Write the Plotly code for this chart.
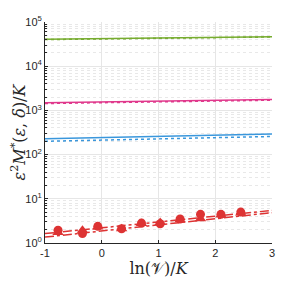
import plotly.graph_objects as go

x_line = [-1, 3]
green_solid = [40500, 46500]
green_dot = [40000, 45800]
pink_solid = [1480, 1760]
pink_dot = [1430, 1700]
blue_solid = [228, 292]
blue_dot = [200, 257]
red_fit1 = [1.63, 5.47]
red_fit2 = [1.36, 4.86]

x_pts = [-0.77, -0.34, -0.07, 0.35, 0.70, 1.03, 1.38, 1.74, 2.10, 2.45]
red_circ = [1.94, 1.63, 2.38, 2.1, 2.82, 2.73, 3.5, 4.45, 4.45, 5.0]
red_tri = [1.72, 1.94, 2.3, 2.1, 2.75, 2.9, 3.35, 3.55, 4.3, 4.8]

ytick_vals = [1, 10, 100, 1000, 10000, 100000]
ytick_text = ["10<sup>0</sup>", "10<sup>1</sup>", "10<sup>2</sup>", "10<sup>3</sup>", "10<sup>4</sup>", "10<sup>5</sup>"]
xtick_vals = [-1, 0, 1, 2, 3]

GREEN = "#77AC30"
PINK = "#e0388c"
BLUE = "#3a97dc"
RED = "#dd3333"

fig = go.Figure()
for ys, col, dash in [(green_solid, GREEN, "solid"), (green_dot, GREEN, "dot"),
                      (pink_solid, PINK, "solid"), (pink_dot, PINK, "dot"),
                      (blue_solid, BLUE, "solid"), (blue_dot, BLUE, "dot"),
                      (red_fit1, RED, "dashdot"), (red_fit2, RED, "dashdot")]:
    fig.add_trace(go.Scatter(x=x_line, y=ys, mode="lines",
                             line=dict(color=col, width=1.5, dash=dash),
                             showlegend=False))

fig.add_trace(go.Scatter(x=x_pts, y=red_tri, mode="markers",
                         marker=dict(symbol="triangle-up", size=10, color=RED),
                         showlegend=False))
fig.add_trace(go.Scatter(x=x_pts, y=red_circ, mode="markers",
                         marker=dict(symbol="circle", size=9, color=RED),
                         showlegend=False))

axis_col = "#262626"
fig.update_layout(
    width=279, height=275, autosize=False,
    margin=dict(l=37, r=15, t=14, b=40, autoexpand=False),
    paper_bgcolor="white", plot_bgcolor="white",
    xaxis=dict(range=[-1, 3], tickvals=xtick_vals, ticktext=[str(v) for v in xtick_vals],
               showgrid=True, gridcolor="#e6e6e6", gridwidth=1,
               showline=True, linecolor=axis_col, linewidth=1,
               ticks="inside", ticklen=3, tickcolor=axis_col,
               tickfont=dict(family="Liberation Sans, Arial", size=11, color=axis_col),
               zeroline=False, automargin=False,
               title=dict(text="ln(𝒱)/<i>K</i>", standoff=4,
                          font=dict(family="DejaVu Serif, Liberation Serif", size=16, color=axis_col))),
    yaxis=dict(type="log", range=[0, 5], tickvals=ytick_vals, ticktext=ytick_text,
               showgrid=True, gridcolor="#e6e6e6", gridwidth=1,
               showline=True, linecolor=axis_col, linewidth=1,
               ticks="inside", ticklen=3, tickcolor=axis_col,
               tickfont=dict(family="Liberation Sans, Arial", size=11, color=axis_col),
               zeroline=False, automargin=False,
               minor=dict(dtick="D1", showgrid=True, gridcolor="#e8e8e8", griddash="dot",
                          gridwidth=1, ticks="inside", ticklen=2, tickcolor=axis_col),
               title=dict(text="<i>ε</i><sup>2</sup><i>M</i><sup>*</sup>(<i>ε</i>, <i>δ</i>)/<i>K</i>",
                          standoff=4,
                          font=dict(family="DejaVu Serif, Liberation Serif", size=16, color=axis_col))),
)
fig.write_html("out.html", config={"responsive": False})
